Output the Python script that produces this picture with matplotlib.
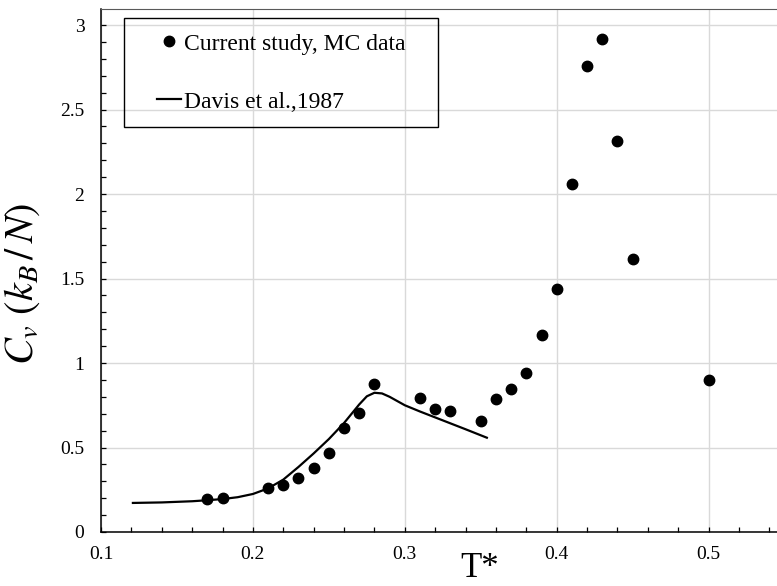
import matplotlib
matplotlib.use("Agg")
import matplotlib.pyplot as plt
from matplotlib.patches import Rectangle
from matplotlib.ticker import MultipleLocator

plt.rcParams['font.family'] = ['Liberation Serif', 'DejaVu Serif']
plt.rcParams['mathtext.fontset'] = 'stix'

# MC data (current study)
mc_t = [0.17, 0.18, 0.21, 0.22, 0.23, 0.24, 0.25, 0.26, 0.27, 0.28,
        0.31, 0.32, 0.33, 0.35, 0.36, 0.37, 0.38, 0.39, 0.40, 0.41,
        0.42, 0.43, 0.44, 0.45, 0.50]
mc_cv = [0.195, 0.20, 0.258, 0.278, 0.32, 0.377, 0.467, 0.613, 0.706, 0.874,
         0.795, 0.726, 0.718, 0.657, 0.785, 0.846, 0.943, 1.166, 1.438, 2.06,
         2.76, 2.915, 2.315, 1.617, 0.90]

# Davis et al. 1987 curve
davis_t = [0.121, 0.14, 0.16, 0.17, 0.18, 0.19, 0.20, 0.21, 0.22, 0.23,
           0.24, 0.25, 0.26, 0.27, 0.275, 0.28, 0.285, 0.29, 0.30, 0.31,
           0.32, 0.33, 0.34, 0.354]
davis_cv = [0.172, 0.175, 0.182, 0.188, 0.195, 0.206, 0.225, 0.258, 0.31, 0.385,
            0.465, 0.55, 0.645, 0.755, 0.803, 0.824, 0.82, 0.8, 0.75, 0.713,
            0.678, 0.643, 0.608, 0.558]

fig = plt.figure(figsize=(7.77, 5.86), dpi=100)
ax = fig.add_axes([101/777, 1-532/586, 676/777, 523/586])

line, = ax.plot(davis_t, davis_cv, color='black', lw=1.6, label='Davis et al.,1987', zorder=3)
dots, = ax.plot(mc_t, mc_cv, 'o', color='black', ms=7.5, ls='none',
                label='Current study, MC data', zorder=4)

ax.set_xlim(0.1, 0.545)
ax.set_ylim(0, 3.095)
ax.xaxis.set_minor_locator(MultipleLocator(0.02))
ax.yaxis.set_minor_locator(MultipleLocator(0.1))
ax.set_xticks([0.1, 0.2, 0.3, 0.4, 0.5])
ax.set_xticklabels(['0.1', '0.2', '0.3', '0.4', '0.5'])
ax.set_yticks([0, 0.5, 1, 1.5, 2, 2.5, 3])
ax.set_yticklabels(['0', '0.5', '1', '1.5', '2', '2.5', '3'])
ax.tick_params(which='both', direction='in', length=3.5, width=0.9, labelsize=14, colors='black')
ax.tick_params(axis='x', pad=10)
ax.tick_params(axis='y', pad=12)

ax.grid(True, which='major', color='#d9d9d9', lw=1.0)
ax.set_axisbelow(True)

for s in ['left', 'bottom']:
    ax.spines[s].set_color('black')
    ax.spines[s].set_linewidth(1.1)
ax.spines['top'].set_color('#595959')
ax.spines['right'].set_visible(False)

ax.set_ylabel(r'$C_v\,\,(k_B\,/\,N)$', fontsize=29)
ax.yaxis.set_label_coords(-0.088, 0.475)
fig.text(480/777, 1/586, 'T*', fontsize=25, ha='center', va='bottom')

# legend frame and entries
x0 = (124-101)/676
y0 = (532-127)/523
ax.add_patch(Rectangle((x0, y0), (438-124)/676, (127-18)/523, transform=ax.transAxes,
                       fill=False, edgecolor='black', lw=1.0, zorder=5))
ax.legend(handles=[dots, line], loc='upper left',
          bbox_to_anchor=((157-101)/676, (532-33)/523), frameon=False,
          fontsize=17, borderpad=0, handlelength=1.0, handletextpad=0.15,
          labelspacing=1.55, borderaxespad=0)

fig.savefig('out.png', dpi=100)
